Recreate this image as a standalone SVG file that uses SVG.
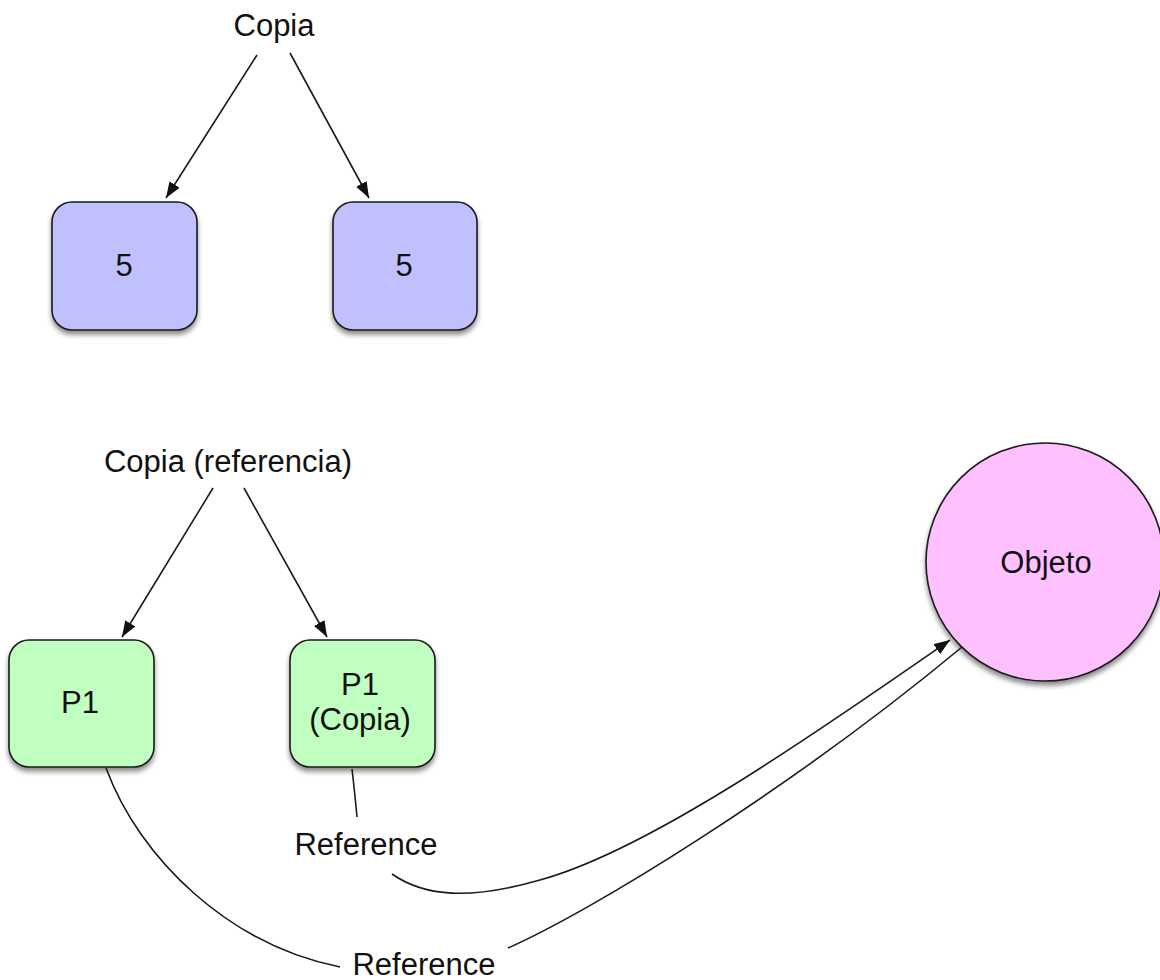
<svg xmlns="http://www.w3.org/2000/svg" width="1160" height="980" viewBox="0 0 1160 980">
<defs>
<style>
text{font-family:"Liberation Sans",Arial,Helvetica,sans-serif;font-size:31px;fill:#111;text-anchor:middle}
.box{stroke:#1a1a1a;stroke-width:1.6}
.blue{fill:#c0c0ff}
.green{fill:#c0ffc0}
.pink{fill:#ffc0ff}
.edge{fill:none;stroke:#1a1a1a;stroke-width:1.6}
</style>
<filter id="sh" x="-20%" y="-20%" width="140%" height="150%">
<feDropShadow dx="0" dy="4" stdDeviation="2.5" flood-color="#000" flood-opacity="0.45"/>
</filter>
<marker id="ah" viewBox="0 0 16 12" refX="16" refY="6" markerWidth="16" markerHeight="12" markerUnits="userSpaceOnUse" orient="auto">
<path d="M0,0 L16,6 L0,12 Z" fill="#111"/>
</marker>
</defs>
<rect width="1160" height="980" fill="#fff"/>

<g id="label-copia"><text x="274" y="36">Copia</text></g>
<g id="box-5a"><rect class="box blue" x="52" y="202" width="145" height="128" rx="20" filter="url(#sh)"/><text x="124" y="276">5</text></g>
<g id="box-5b"><rect class="box blue" x="333" y="202" width="144" height="128" rx="20" filter="url(#sh)"/><text x="404" y="276">5</text></g>

<g id="label-copia-ref"><text x="228" y="472">Copia (referencia)</text></g>
<g id="box-p1"><rect class="box green" x="9" y="640" width="145" height="127" rx="20" filter="url(#sh)"/><text x="80" y="713">P1</text></g>
<g id="box-p1-copia"><rect class="box green" x="290" y="640" width="145" height="127" rx="20" filter="url(#sh)"/><text x="360" y="695">P1</text><text x="360" y="730">(Copia)</text></g>
<g id="objeto"><circle class="box pink" cx="1045" cy="562" r="119" filter="url(#sh)"/><text x="1046" y="573">Objeto</text></g>

<g id="connectors">
<path class="edge" d="M257,55 L166,198" marker-end="url(#ah)"/>
<path class="edge" d="M290,53 L369,198" marker-end="url(#ah)"/>
<path class="edge" d="M213,488 L122,637" marker-end="url(#ah)"/>
<path class="edge" d="M244,488 L327,637" marker-end="url(#ah)"/>
<path class="edge" d="M352,769 Q355,795 357,817"/>
<path class="edge" d="M392,874 C425,897 470,900 540,880 C650,850 820,730 950,640" marker-end="url(#ah)"/>
<path class="edge" d="M106,768 C140,860 230,945 340,967"/>
<path class="edge" d="M508,948 C590,912 790,790 962,647"/>
<text x="366" y="855">Reference</text>
<text x="424" y="975">Reference</text>
</g>
</svg>
